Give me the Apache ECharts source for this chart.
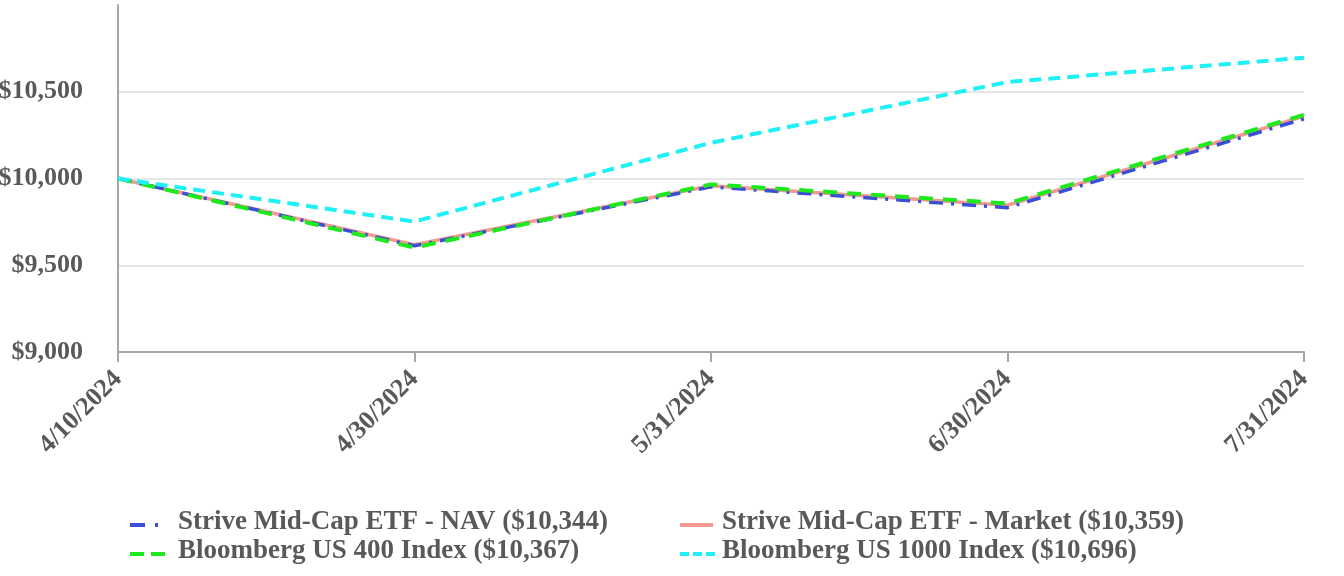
<!DOCTYPE html>
<html>
<head>
<meta charset="utf-8">
<script src="https://cdn.jsdelivr.net/npm/echarts@6/dist/echarts.min.js"></script>
<style>
html,body{margin:0;padding:0;background:#fff;}
#chart{width:1344px;height:576px;}
</style>
</head>
<body>
<div id="chart"></div>
<script>
var categories = ['4/10/2024', '4/30/2024', '5/31/2024', '6/30/2024', '7/31/2024'];
var navValues = [10000, 9612, 9952, 9832, 10344];
var marketValues = [10000, 9618, 9958, 9846, 10359];
var idx400Values = [10000, 9602, 9966, 9856, 10367];
var idx1000Values = [10000, 9752, 10206, 10556, 10696];
var seriesNames = [
  'Strive Mid-Cap ETF - NAV ($10,344)',
  'Strive Mid-Cap ETF - Market ($10,359)',
  'Bloomberg US 400 Index ($10,367)',
  'Bloomberg US 1000 Index ($10,696)'
];
var yTicks = [9000, 9500, 10000, 10500, 11000];

var font = 'Liberation Serif';
var textColor = '#595959';
var icons = [
  'path://M0,5 L15,5 L15,9 L0,9 Z M25,5 L28,5 L28,9 L25,9 Z M0,0 L0.01,0 Z M36,0 L36.01,0 Z',
  'path://M0,5 L33,5 L33,9 L0,9 Z M0,0 L0.01,0 Z M36,0 L36.01,0 Z',
  'path://M0,5 L14,5 L14,9 L0,9 Z M21,5 L35,5 L35,9 L21,9 Z M0,0 L0.01,0 Z M36,0 L36.01,0 Z',
  'path://M0,5 L9,5 L9,9 L0,9 Z M13,5 L22,5 L22,9 L13,9 Z M26,5 L35,5 L35,9 L26,9 Z M0,0 L0.01,0 Z M36,0 L36.01,0 Z'
];
var legendPos = [[130, 509, 7], [680, 509, 1], [130, 538, 7], [680, 538, 1]];

function makeLegend(i) {
  return {
    show: true,
    padding: 0,
    left: legendPos[i][0], top: legendPos[i][1],
    itemWidth: 36, itemHeight: 14, itemGap: 0,
    textStyle: { fontFamily: font, fontWeight: 'bold', fontSize: 27, color: textColor, padding: [0, 0, 0, legendPos[i][2]] },
    data: [{ name: seriesNames[i], icon: icons[i] }]
  };
}

var chart = echarts.init(document.getElementById('chart'));
chart.setOption({
  animation: false,
  grid: { left: 118, right: 40, top: 5, bottom: 224, containLabel: false, outerBoundsMode: 'none' },
  xAxis: {
    type: 'category',
    data: categories,
    boundaryGap: false,
    axisLine: { lineStyle: { color: '#a6a6a6', width: 2 } },
    axisTick: { show: true, alignWithLabel: true, length: 10, lineStyle: { color: '#a6a6a6', width: 2 } },
    axisLabel: {
      rotate: 45, interval: 0, margin: 23, hideOverlap: false,
      fontFamily: font, fontWeight: 'bold', fontSize: 26, color: textColor
    },
    splitLine: { show: false }
  },
  yAxis: {
    type: 'value',
    min: yTicks[0], max: yTicks[yTicks.length - 1], interval: 500,
    axisLine: { show: true, lineStyle: { color: '#a6a6a6', width: 2 } },
    axisTick: { show: false },
    axisLabel: {
      margin: 35,
      fontFamily: font, fontWeight: 'bold', fontSize: 26, color: textColor,
      formatter: function (v) {
        if (v === yTicks[yTicks.length - 1]) return '';
        return '$' + v.toLocaleString('en-US');
      }
    },
    splitLine: { show: true, lineStyle: { color: ['#e6e6e6', '#e6e6e6', '#e6e6e6', '#e6e6e6', 'rgba(0,0,0,0)'], width: 2 } }
  },
  legend: [makeLegend(0), makeLegend(1), makeLegend(2), makeLegend(3)],
  series: [
    {
      name: seriesNames[0], type: 'line', data: navValues, symbol: 'none', z: 3,
      itemStyle: { color: '#3a4fd6' },
      lineStyle: { color: '#3a4fd6', width: 3.5, type: [14, 8, 3, 8] }
    },
    {
      name: seriesNames[1], type: 'line', data: marketValues, symbol: 'none', z: 2,
      itemStyle: { color: '#f59a90' },
      lineStyle: { color: '#f59a90', width: 3.5, type: 'solid' }
    },
    {
      name: seriesNames[2], type: 'line', data: idx400Values, symbol: 'none', z: 4,
      itemStyle: { color: '#1ee81e' },
      lineStyle: { color: '#1ee81e', width: 4, type: [14, 10] }
    },
    {
      name: seriesNames[3], type: 'line', data: idx1000Values, symbol: 'none', z: 5,
      itemStyle: { color: '#1ef0f5' },
      lineStyle: { color: '#1ef0f5', width: 4, type: [12, 7] }
    }
  ]
});
</script>
</body>
</html>
